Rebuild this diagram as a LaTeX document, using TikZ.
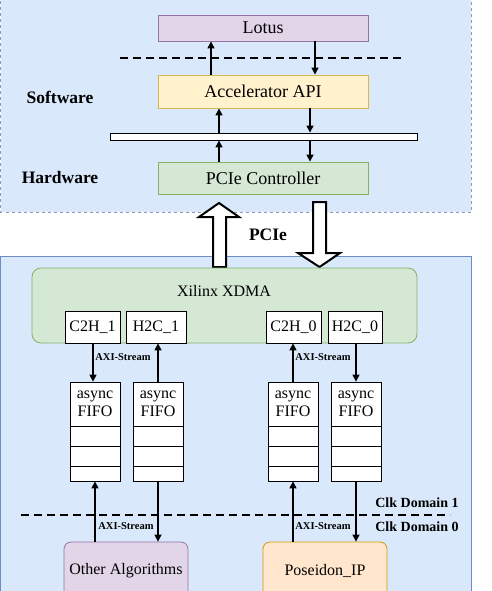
\documentclass[tikz,border=0pt]{standalone}
\usepackage{fontspec}
\setmainfont{Liberation Serif}
\usetikzlibrary{arrows.meta}
\definecolor{purpleF}{HTML}{E1D5E7}\definecolor{purpleD}{HTML}{9673A6}
\definecolor{yellowF}{HTML}{FFF2CC}\definecolor{yellowD}{HTML}{D6B656}
\definecolor{greenF}{HTML}{D5E8D4}\definecolor{greenD}{HTML}{82B366}
\definecolor{blueF}{HTML}{DAE8FC}\definecolor{blueD}{HTML}{6C8EBF}
\definecolor{orangeF}{HTML}{FFE6CC}\definecolor{orangeD}{HTML}{D79B00}
\definecolor{panelD}{HTML}{8A9BB0}
\begin{document}
\begin{tikzpicture}[x=1pt,y=-1pt,
  bigbox/.style={draw, line width=0.9pt, inner sep=0pt, minimum width=210pt, font=\fontsize{18}{20}\selectfont},
  port/.style={draw=black, fill=white, line width=0.8pt, inner sep=0pt, minimum height=32pt, font=\fontsize{16}{18}\selectfont},
  fifohead/.style={draw=black, fill=white, line width=0.8pt, inner sep=0pt, minimum width=50pt, minimum height=44pt, align=center, font=\fontsize{16}{18.5}\selectfont},
  fiforow/.style={draw=black, fill=white, line width=0.8pt, inner sep=0pt, minimum width=50pt},
  ipbox/.style={draw, rounded corners=7pt, line width=0.8pt, inner sep=0pt, minimum width=124pt, minimum height=58pt, font=\fontsize{16}{18}\selectfont},
  sidelab/.style={font=\fontsize{17.5}{20}\selectfont\bfseries},
  clklab/.style={font=\fontsize{14}{16}\selectfont\bfseries},
  axilab/.style={font=\fontsize{10.5}{12}\selectfont\bfseries, inner sep=1pt},
  arr/.style={line width=1.4pt, -{Triangle[length=7pt,width=7pt]}},
  sep/.style={line width=1.6pt, dash pattern=on 8pt off 5pt},
  blockarrow/.style={draw=black, fill=white, line width=2pt, line join=miter}
]
\useasboundingbox (0,0) rectangle (492,591);
\fill[white] (0,0) rectangle (492,591);
% panels
\draw[fill=blueF, draw=panelD, dashed, line width=0.6pt] (0.5,-5) rectangle (471,212);
\draw[fill=blueF, draw=blueD, line width=0.8pt] (0.5,256) rectangle (471,600);

% big PCIe arrows
\draw[blockarrow] (219,203) -- (239,217) -- (226,217) -- (226,267) -- (213,267) -- (213,217) -- (199,217) -- cycle;
\draw[blockarrow] (319.5,267) -- (340,253) -- (326,253) -- (326,202) -- (313,202) -- (313,253) -- (298,253) -- cycle;
\node[sidelab] (pcielab) at (268,235) {PCIe};

% software stack
\node[bigbox, fill=purpleF, draw=purpleD, minimum height=26pt] (lotus) at (263,28) {Lotus};
\node[bigbox, fill=yellowF, draw=yellowD, minimum height=33pt] (api) at (263,91.5) {Accelerator API};
\node[draw=black, fill=white, line width=0.9pt, minimum width=307pt, minimum height=7pt, inner sep=0pt] (bar) at (263.5,136.5) {};
\node[bigbox, fill=greenF, draw=greenD, minimum height=32pt] (pcie) at (263,178) {PCIe Controller};
\node[sidelab] (sw) at (60,97) {Software};
\node[sidelab] (hw) at (60,178) {Hardware};
\draw[sep] (120,58) -- (405,58);

\coordinate (xa) at (211,0);
\coordinate (xb) at (315,0);
\coordinate (xc) at (219,0);
\coordinate (xd) at (310,0);
\draw[arr] (xa |- api.north) -- (xa |- lotus.south);
\draw[arr] (xb |- lotus.south) -- (xb |- api.north);
\draw[arr] (xc |- bar.north) -- (xc |- api.south);
\draw[arr] (xd |- api.south) -- (xd |- bar.north);
\draw[arr] (xc |- pcie.north) -- (xc |- bar.south);
\draw[arr] (xd |- bar.south) -- (xd |- pcie.north);

% XDMA
\node[draw=greenD, fill=greenF, rounded corners=9pt, line width=0.8pt, minimum width=385pt, minimum height=75pt, inner sep=0pt] (xdma) at (224.5,305.5) {};
\node[font=\fontsize{16}{18}\selectfont] (xdmalab) at (224,291) {Xilinx XDMA};
\node[port, minimum width=55pt] (c2h1) at (92.5,327) {C2H\_1};
\node[port, minimum width=60pt] (h2c1) at (156,327) {H2C\_1};
\node[port, minimum width=55pt] (c2h0) at (293.5,327) {C2H\_0};
\node[port, minimum width=54pt] (h2c0) at (355,327) {H2C\_0};

% FIFOs
\foreach \n/\x in {1/95,2/158,3/293,4/356}{
  \node[fifohead] (f\n h) at (\x,404) {async\\FIFO};
  \node[fiforow, minimum height=20pt] (f\n a) at (\x,436) {};
  \node[fiforow, minimum height=20pt] (f\n b) at (\x,456) {};
  \node[fiforow, minimum height=15pt] (f\n c) at (\x,473.5) {};
}

% IP blocks
\node[ipbox, fill=purpleF, draw=purpleD] (other) at (126,571) {Other Algorithms};
\node[ipbox, fill=orangeF, draw=orangeD] (pos) at (325,571) {Poseidon\_IP};

% XDMA <-> FIFO
\coordinate (p1) at (93,0);
\coordinate (p2) at (158,0);
\coordinate (p3) at (293,0);
\coordinate (p4) at (356,0);
\coordinate (q1) at (95,0);
\draw[arr] (p1 |- c2h1.south) -- (p1 |- f1h.north);
\draw[arr] (p2 |- f2h.north) -- (p2 |- h2c1.south);
\draw[arr] (p3 |- f3h.north) -- (p3 |- c2h0.south);
\draw[arr] (p4 |- h2c0.south) -- (p4 |- f4h.north);
\node[axilab] (ax1) at (123,357) {AXI-Stream};
\node[axilab] (ax2) at (323,357) {AXI-Stream};

% FIFO <-> IP
\draw[arr] (q1 |- other.north) -- (q1 |- f1c.south);
\draw[arr] (p2 |- f2c.south) -- (p2 |- other.north);
\draw[arr] (p3 |- pos.north) -- (p3 |- f3c.south);
\draw[arr] (p4 |- f4c.south) -- (p4 |- pos.north);
\node[axilab] (ax3) at (126,526) {AXI-Stream};
\node[axilab] (ax4) at (323,526) {AXI-Stream};

\draw[sep] (21,515) -- (450,515);
\node[clklab] (clk1) at (417,503) {Clk Domain 1};
\node[clklab] (clk0) at (417,527) {Clk Domain 0};
\end{tikzpicture}
\end{document}
